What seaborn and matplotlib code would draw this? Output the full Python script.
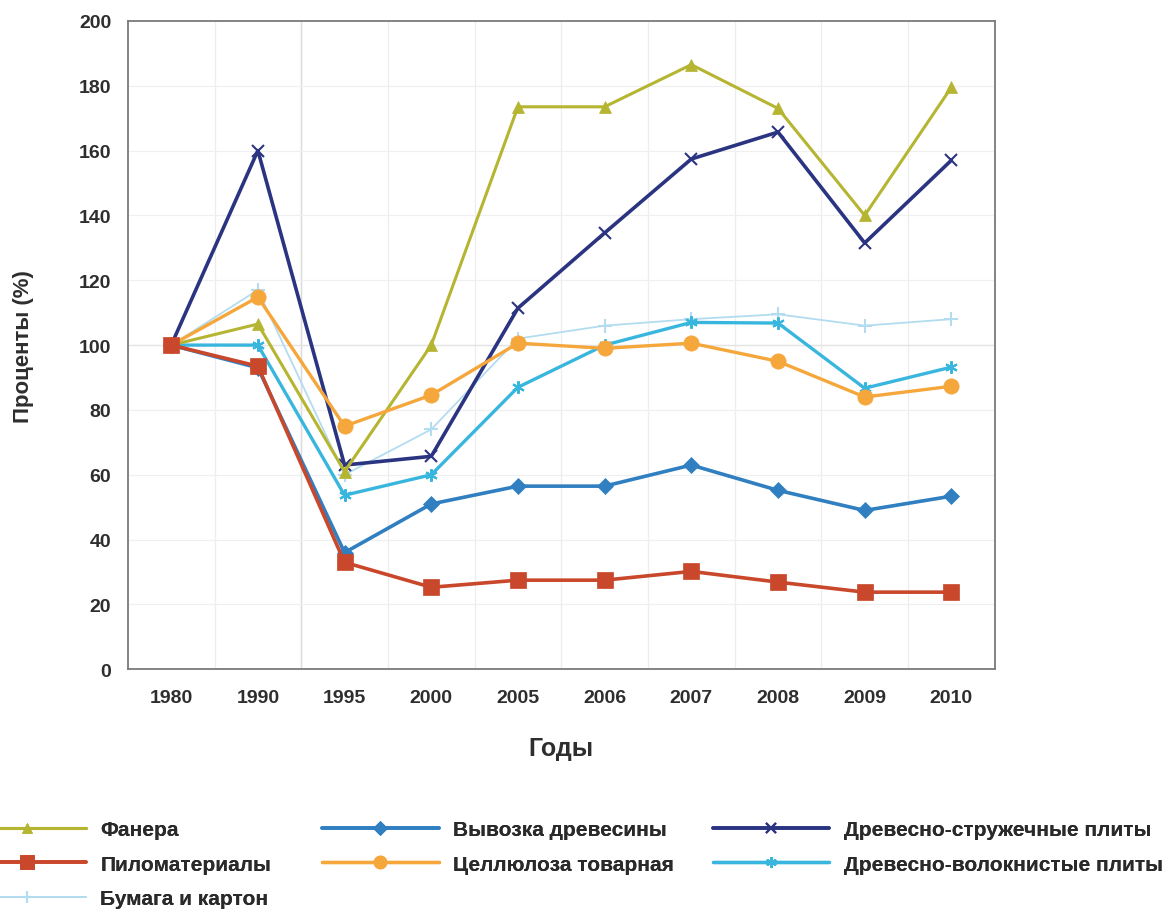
import matplotlib
matplotlib.use("Agg")
import matplotlib.pyplot as plt
import seaborn as sns
import pandas as pd

years = ["1980", "1990", "1995", "2000", "2005", "2006", "2007", "2008", "2009", "2010"]

fanera = [100, 106.5, 61, 100, 173.5, 173.5, 186.5, 173, 140, 179.5]
pilomaterialy = [100, 93.5, 33, 25.3, 27.5, 27.5, 30.2, 26.9, 23.8, 23.8]
bumaga = [100, 117, 60, 74, 102, 106, 108, 109.5, 106, 108]
vyvozka = [100, 93, 36, 51, 56.5, 56.5, 63, 55.2, 49, 53.4]
celluloza = [100, 114.8, 75, 84.6, 100.6, 99, 100.6, 95, 84, 87.3]
dsp = [100, 160, 63, 65.7, 111.4, 134.6, 157.4, 165.7, 131.5, 157]
dvp = [100, 100, 53.7, 60, 87, 100, 107, 106.8, 86.7, 93.2]

series = [
    ("Фанера", fanera),
    ("Пиломатериалы", pilomaterialy),
    ("Бумага и картон", bumaga),
    ("Вывозка древесины", vyvozka),
    ("Целлюлоза товарная", celluloza),
    ("Древесно-стружечные плиты", dsp),
    ("Древесно-волокнистые плиты", dvp),
]

styles = {
    "Фанера": dict(color="#b5b532", marker="^", markersize=8, linewidth=2.2, zorder=4),
    "Пиломатериалы": dict(color="#c9472b", marker="s", markersize=12, linewidth=2.6, zorder=5),
    "Бумага и картон": dict(color="#b3dcf0", marker="+", markersize=10, linewidth=1.3, zorder=2),
    "Вывозка древесины": dict(color="#2f7fc1", marker="D", markersize=8, linewidth=2.6, zorder=4),
    "Целлюлоза товарная": dict(color="#f5a73c", marker="o", markersize=11, linewidth=2.4, zorder=4),
    "Древесно-стружечные плиты": dict(color="#2b3481", marker="x", markersize=9, linewidth=2.6, zorder=3),
    "Древесно-волокнистые плиты": dict(color="#38b6de", marker=(6, 2, 0), markersize=9, linewidth=2.4, zorder=3),
}

rows = []
for name, vals in series:
    for i, v in enumerate(vals):
        rows.append({"idx": i, "value": v, "series": name})
df = pd.DataFrame(rows)

sns.set_theme(style="white")
plt.rcParams["font.family"] = ["Liberation Sans", "DejaVu Sans"]

fig = plt.figure(figsize=(11.73, 9.12), dpi=100)
ax = fig.add_axes([0.109, 0.265, 0.739, 0.711])

for name, _ in series:
    st = styles[name]
    sub = df[df["series"] == name]
    thin = st["marker"] in ("+", "x", (6, 2, 0))
    sns.lineplot(
        data=sub, x="idx", y="value", ax=ax, color=st["color"], marker=st["marker"],
        markersize=st["markersize"], linewidth=st["linewidth"], label=name,
        markeredgecolor=st["color"], markeredgewidth=1.5 if thin else 0.5,
        zorder=st["zorder"], errorbar=None,
    )

ax.set_xlim(-0.5, len(years) - 0.5)
ax.set_ylim(0, 200)
ax.set_xticks(range(len(years)))
ax.set_xticklabels(years)
ax.set_yticks(range(0, 201, 20))

# faint grid between categories and at every 20 %
for b in [i + 0.5 for i in range(len(years) - 1)]:
    ax.axvline(b, color="#ededed", linewidth=0.9, zorder=0)
ax.axvline(1.5, color="#dcdcdc", linewidth=1.0, zorder=0)
for yv in range(20, 200, 20):
    ax.axhline(yv, color="#f0f0f0", linewidth=0.9, zorder=0)
ax.axhline(100, color="#e4e4e4", linewidth=1.0, zorder=0)

for lbl in ax.get_xticklabels() + ax.get_yticklabels():
    lbl.set_fontweight("bold")
    lbl.set_fontsize(14)
    lbl.set_color("#2e2e2e")
ax.tick_params(axis="x", pad=14, length=0)
ax.tick_params(axis="y", pad=12, length=0)

ax.set_xlabel("Годы", fontsize=18, fontweight="bold", color="#2e2e2e", labelpad=22)
ax.set_ylabel("Проценты (%)", fontsize=16, fontweight="bold", color="#2e2e2e")
ax.yaxis.set_label_coords(-0.108, 0.5)

for s in ax.spines.values():
    s.set_color("#7a7a7a")
    s.set_linewidth(1.3)

handles, labels = ax.get_legend_handles_labels()
if ax.legend_:
    ax.legend_.remove()

# legend laid out as three columns
groups = [(0, 3, -0.030), (3, 5, 0.271), (5, 7, 0.604)]
for start, stop, x0 in groups:
    leg = fig.legend(
        handles[start:stop], labels[start:stop], loc="upper left",
        bbox_to_anchor=(x0, 0.104), frameon=False, handlelength=5.6,
        labelspacing=0.74, prop={"weight": "bold", "size": 15},
        handletextpad=0.7, borderaxespad=0, borderpad=0.2, markerscale=0.85,
    )
    for t in leg.get_texts():
        t.set_color("#2a2a2a")
    fig.add_artist(leg)

fig.savefig("out.png", dpi=100)
